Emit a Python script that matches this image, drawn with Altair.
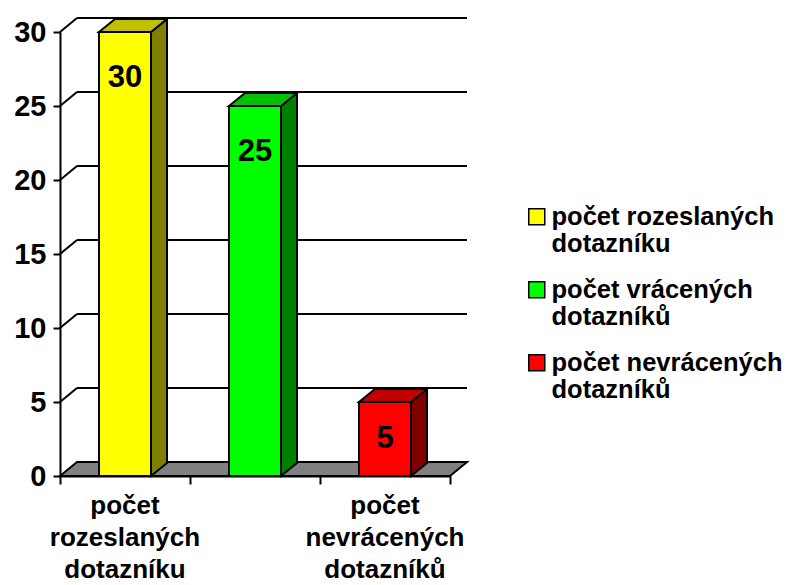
import altair as alt
import pandas as pd

categories = ["počet rozeslaných dotazníku", "počet vrácených dotazníků", "počet nevrácených dotazníků"]
values = [30, 25, 5]
front_colors = ["#FFFF00", "#00FF00", "#FF0000"]
top_colors = ["#C0C000", "#00C000", "#C00000"]
side_colors = ["#808000", "#008000", "#800000"]
y_ticks = [0, 5, 10, 15, 20, 25, 30]
shown_x_labels = [0, 2]  # the middle category label is omitted in the original

FONT = "Liberation Sans"
PLOT_W, PLOT_H = 390, 444
Y_MAX = 30
n = len(categories)
ux = PLOT_W / n
uy = PLOT_H / Y_MAX
WALL_DX, WALL_DY = 17 / ux, 14 / uy
BAR_DX, BAR_DY = 16 / ux, 13 / uy
BL, BR = 0.3, 0.7

xscale = alt.Scale(domain=[0, n], range=[0, PLOT_W], nice=False, zero=False)
yscale = alt.Scale(domain=[0, Y_MAX], range=[PLOT_H, 0], nice=False)
xaxis = alt.Axis(values=list(range(n + 1)), labels=False, title=None, grid=False,
                 tickSize=8, tickWidth=2, tickColor="black", domainColor="black", domainWidth=2)
yaxis = alt.Axis(values=y_ticks, title=None, grid=False, tickSize=7, tickWidth=2,
                 tickColor="black", domainColor="black", domainWidth=2,
                 labelFont=FONT, labelFontWeight="bold", labelFontSize=29,
                 labelColor="black", labelPadding=7)


def X(f):
    return alt.X(f, type="quantitative", scale=xscale, axis=xaxis)


def Y(f):
    return alt.Y(f, type="quantitative", scale=yscale, axis=yaxis, stack=None)


# back wall gridlines and their side diagonals
grid_vals = [t for t in y_ticks if t > 0]
grid = pd.DataFrame({
    "x0": [0.0] * len(grid_vals),
    "y0": grid_vals,
    "xw": [WALL_DX] * len(grid_vals),
    "yw": [v + WALL_DY for v in grid_vals],
    "xe": [n + WALL_DX] * len(grid_vals),
})
diag = alt.Chart(grid).mark_rule(color="black", strokeWidth=2).encode(
    x=X("x0"), y=Y("y0"), x2="xw", y2="yw")
back = alt.Chart(grid).mark_rule(color="black", strokeWidth=2).encode(
    x=X("xw"), y=Y("yw"), x2="xe")

# floor
floor_df = pd.DataFrame({
    "x": [0, WALL_DX, n, n + WALL_DX],
    "y": [0, WALL_DY, WALL_DY, WALL_DY],
    "y2": [0, 0, 0, WALL_DY],
})
floor = alt.Chart(floor_df).mark_area(fill="#808080", stroke="black", strokeWidth=2,
                                      strokeJoin="miter").encode(
    x=X("x"), y=Y("y"), y2="y2")

# bar side and top faces
rows = []
for i, v in enumerate(values):
    sid = f"side{i}"
    rows.append(dict(face=sid, fill=side_colors[i], x=i + BR, y=v, y2=0))
    rows.append(dict(face=sid, fill=side_colors[i], x=i + BR + BAR_DX, y=v + BAR_DY, y2=BAR_DY))
    tid = f"top{i}"
    rows.append(dict(face=tid, fill=top_colors[i], x=i + BL, y=v, y2=v))
    rows.append(dict(face=tid, fill=top_colors[i], x=i + BL + BAR_DX, y=v + BAR_DY, y2=v))
    rows.append(dict(face=tid, fill=top_colors[i], x=i + BR, y=v + BAR_DY, y2=v))
    rows.append(dict(face=tid, fill=top_colors[i], x=i + BR + BAR_DX, y=v + BAR_DY, y2=v + BAR_DY))
faces_df = pd.DataFrame(rows)
faces = alt.Chart(faces_df).mark_area(stroke="black", strokeWidth=2, strokeJoin="miter").encode(
    x=X("x"), y=Y("y"), y2="y2",
    fill=alt.Fill("fill:N", scale=None),
    detail="face:N",
)

# bar front faces
bars_df = pd.DataFrame({
    "series": categories,
    "x0": [i + BL for i in range(n)],
    "x1": [i + BR for i in range(n)],
    "v": values,
    "zero": [0] * n,
    "xc": [i + 0.5 for i in range(n)],
    "ylab": [v - min(v / 2, 3.1) for v in values],
    "label": [str(v) for v in values],
})
legend = alt.Legend(
    title=None, orient="none", legendX=464, legendY=172,
    symbolType="square", symbolSize=256, symbolStrokeColor="black", symbolStrokeWidth=1.5,
    labelFont=FONT, labelFontWeight="bold", labelFontSize=25.5, labelColor="black",
    labelLimit=0, rowPadding=19, labelOffset=2,
    labelExpr="[slice(datum.label, 0, lastindexof(datum.label, ' ')), slice(datum.label, lastindexof(datum.label, ' ') + 1)]",
)
front = alt.Chart(bars_df).mark_rect(stroke="black", strokeWidth=2).encode(
    x=X("x0"), x2="x1", y=Y("v"), y2="zero",
    color=alt.Color("series:N", scale=alt.Scale(domain=categories, range=front_colors), legend=legend),
)
val_labels = alt.Chart(bars_df).mark_text(font=FONT, fontWeight="bold", fontSize=31,
                                          color="black", baseline="middle").encode(
    x=X("xc"), y=Y("ylab"), text="label:N")

# category labels
cat_df = pd.DataFrame({
    "xc": [i + 0.5 for i in shown_x_labels],
    "zero": [0] * len(shown_x_labels),
    "cat": [categories[i] for i in shown_x_labels],
})
cat_labels = alt.Chart(cat_df).mark_text(font=FONT, fontWeight="bold", fontSize=26,
                                         color="black", baseline="alphabetic",
                                         lineBreak=" ", lineHeight=32, dy=38).encode(
    x=X("xc"), y=Y("zero"), text="cat:N")

chart = alt.layer(diag, back, floor, faces, front, val_labels, cat_labels).properties(
    width=PLOT_W, height=PLOT_H,
    autosize=alt.AutoSizeParams(type="none"),
    padding={"left": 52, "top": 24, "right": 336, "bottom": 109},
    background="white",
).configure_view(stroke=None)

chart.save("out.html", embed_options={"renderer": "svg", "actions": False})
